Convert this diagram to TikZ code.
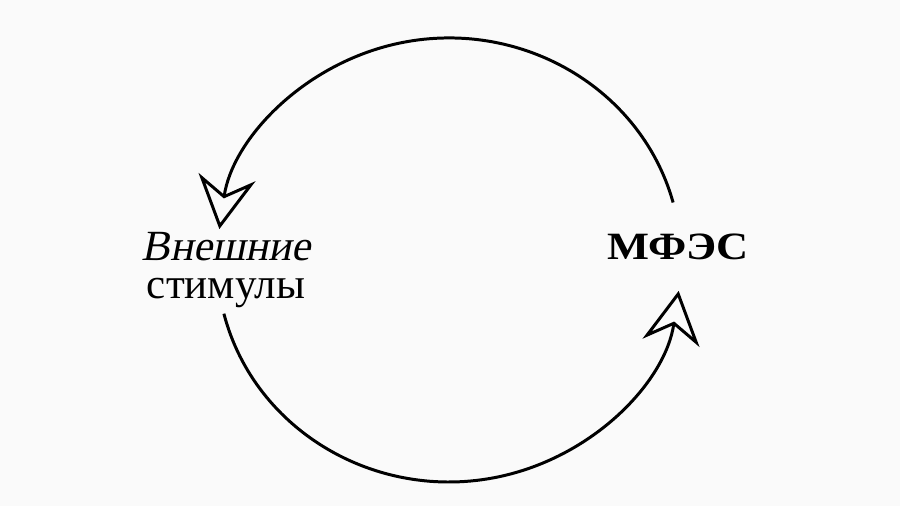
\documentclass[tikz,border=0pt]{standalone}
\usepackage{fontspec}
\setmainfont{Liberation Serif}
\newfontfamily\slantfont[FakeSlant=0.2]{Liberation Serif}
\newfontfamily\widefont[FakeStretch=1.15]{Liberation Serif}
\usetikzlibrary{arrows.meta}
\definecolor{paper}{RGB}{250,250,250}

\begin{document}
\begin{tikzpicture}[x=0.02cm, y=0.02cm,
	cyclearrow/.style={line width=1.7pt, -{Stealth[open, fill=paper, length=1.05cm, width=1.15cm, inset=0.36cm]}}]
	
	\fill[paper] (0,0) rectangle (900,506);
	\useasboundingbox (0,0) rectangle (900,506);
	
	\node[align=center, font=\fontsize{24.5}{21.5}\selectfont] (ext) at (226,236) {{\slantfont Внешние}\\стимулы};
	\node[anchor=base, font=\fontsize{22}{26}\widefont\bfseries] (mfes) at (678,246) {МФЭС};
	
	\coordinate (top) at (673.1,303.5);
	\coordinate (bottom) at (223.9,192.3);
	
	\draw[cyclearrow] (top) arc[start angle=15, end angle=172, x radius=4.64cm, y radius=4.44cm];
	\draw[cyclearrow] (bottom) arc[start angle=194, end angle=352, x radius=4.64cm, y radius=4.44cm];
	
\end{tikzpicture}
\end{document}
